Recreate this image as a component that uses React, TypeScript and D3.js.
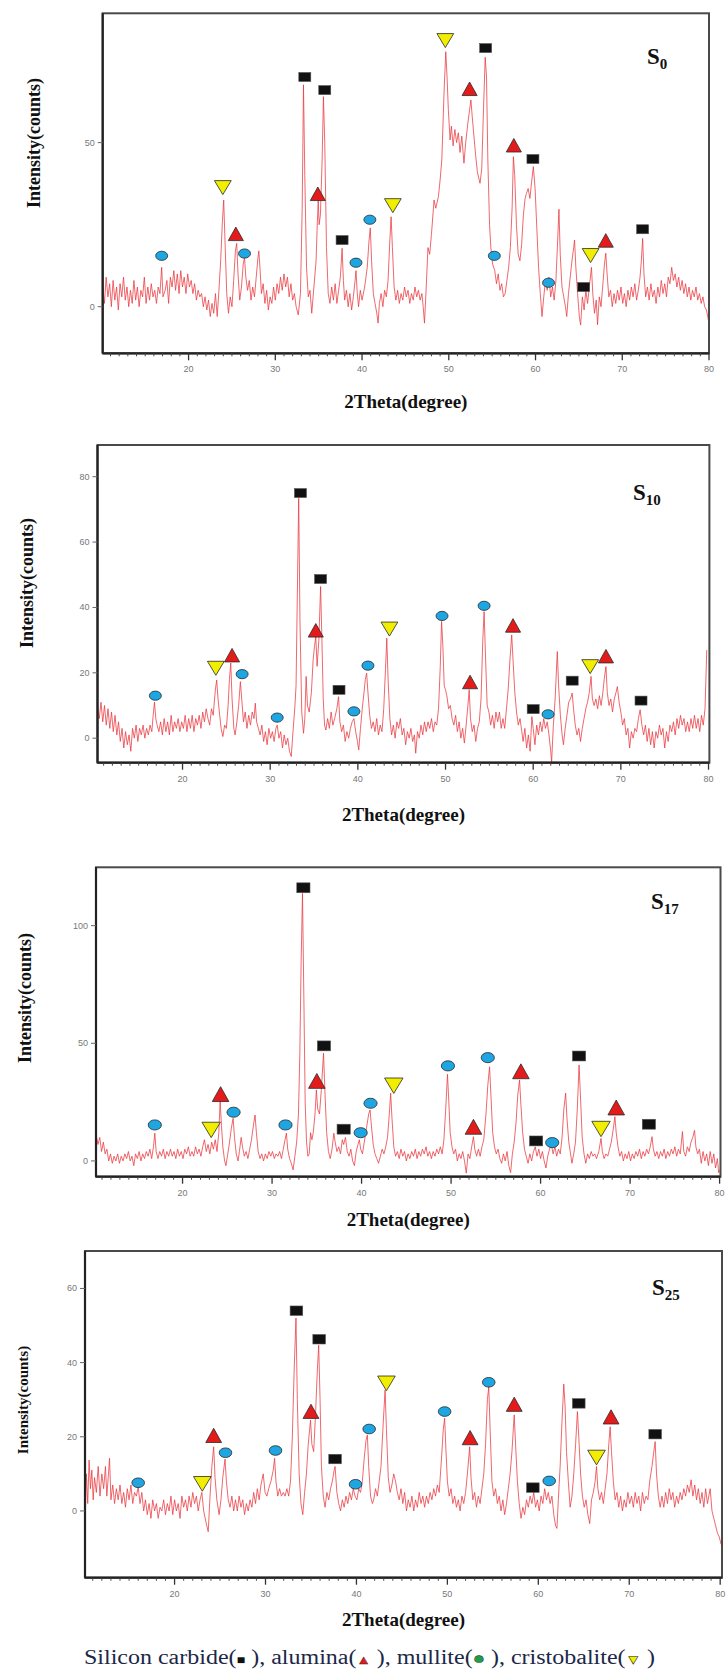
import React from 'react';
import * as d3 from 'd3';

type Pt = [number, number];

// ---- S0 ----
const s0Trace: Pt[] = [
  [10.1, 6], [10.3, 1], [10.5, 9], [10.7, 3], [10.9, 7], [11.1, 0], [11.3, 8], [11.5, 2], [11.7, 6], [11.9, -1],
  [12.1, 7], [12.3, 3], [12.5, 9], [12.7, 2], [12.9, 6], [13.1, 0], [13.3, 5], [13.5, 1], [13.7, 8], [13.9, 2],
  [14.1, 6], [14.3, 0], [14.5, 5], [14.7, 3], [14.9, 9], [15.1, 1], [15.3, 6], [15.5, 2], [15.7, 7], [15.9, 3],
  [16.1, 5], [16.3, 1], [16.5, 6], [16.7, 4], [16.9, 12], [17.05, 3], [17.3, 5], [17.5, 8], [17.7, 1], [17.9, 9],
  [18.1, 6], [18.3, 11], [18.5, 5], [18.7, 10], [18.9, 4], [19.1, 11], [19.3, 6], [19.5, 9], [19.7, 4], [19.9, 10],
  [20.1, 6], [20.3, 8], [20.5, 4], [20.7, 7], [20.9, 2], [21.1, 5], [21.3, 3], [21.5, 4], [21.7, 0], [21.9, 3],
  [22.1, -1], [22.3, 2], [22.5, -3], [22.7, 1], [22.9, -2], [23.1, 4], [23.3, -3], [23.5, 5], [23.7, 14], [23.9, 26],
  [24.05, 32.5], [24.2, 20], [24.4, 4], [24.6, -2], [24.8, 3], [25.0, 0], [25.2, 8], [25.4, 17], [25.55, 19.3], [25.7, 10],
  [25.9, 2], [26.1, 6], [26.3, 13], [26.45, 15], [26.6, 9], [26.8, 5], [27.0, 8], [27.2, 2], [27.4, 6], [27.6, 3],
  [27.8, 9], [28.0, 15], [28.1, 17], [28.25, 11], [28.4, 4], [28.6, 7], [28.8, 1], [29.0, 5], [29.2, -1], [29.4, 3],
  [29.6, 1], [29.8, 6], [30.0, 2], [30.2, 7], [30.4, 4], [30.6, 9], [30.8, 5], [31.0, 10], [31.2, 6], [31.4, 9],
  [31.6, 3], [31.8, 7], [32.0, 2], [32.2, 4], [32.4, 0], [32.65, -2.5], [32.9, 4], [33.1, 30], [33.25, 67.6], [33.4, 40],
  [33.6, 12], [33.8, 3], [34.0, 5], [34.2, -2], [34.45, 6], [34.7, 14], [34.85, 26], [34.95, 32.5], [35.05, 25], [35.2, 28],
  [35.4, 45], [35.55, 64], [35.7, 50], [35.9, 18], [36.1, 4], [36.3, 1], [36.5, 6], [36.7, 2], [36.9, 7], [37.1, 1],
  [37.3, 5], [37.5, 9], [37.7, 17.8], [37.85, 8], [38.0, 2], [38.2, 5], [38.4, 0], [38.6, 4], [38.8, -1], [39.0, 3],
  [39.2, 8], [39.3, 11], [39.45, 4], [39.6, 0], [39.8, 5], [40.0, 2], [40.3, 6], [40.6, 12], [40.8, 20], [40.95, 24],
  [41.1, 14], [41.3, 4], [41.5, 1], [41.7, -2], [41.85, -5], [42.0, 1], [42.2, 4], [42.4, 0], [42.6, 5], [42.8, 3],
  [43.0, 8], [43.2, 20], [43.35, 27.4], [43.5, 18], [43.7, 6], [43.9, 2], [44.1, 5], [44.3, 1], [44.5, 4], [44.7, 2],
  [44.9, 6], [45.1, 3], [45.3, 5], [45.5, 1], [45.7, 4], [45.9, 2], [46.1, 6], [46.3, 3], [46.5, 5], [46.7, 2],
  [46.9, 4], [47.05, 0], [47.2, -5], [47.4, 6], [47.6, 18], [47.8, 16], [48.0, 22], [48.3, 32.5], [48.5, 30], [48.8, 33.5],
  [49.0, 38.6], [49.2, 45], [49.45, 65], [49.65, 77.7], [49.8, 70], [49.95, 60], [50.15, 50.8], [50.3, 55], [50.5, 49], [50.7, 54],
  [50.9, 50], [51.1, 53], [51.3, 47], [51.5, 52], [51.75, 43.7], [51.95, 50], [52.2, 56], [52.4, 60], [52.55, 63], [52.7, 58],
  [52.9, 52], [53.1, 46], [53.3, 41], [53.6, 37.6], [53.8, 42], [54.0, 60], [54.2, 76], [54.35, 70], [54.5, 45], [54.7, 25],
  [54.85, 18], [55.05, 13], [55.3, 11], [55.5, 7], [55.7, 10], [55.9, 5], [56.1, 7], [56.3, 3], [56.5, 4], [56.7, 8],
  [56.9, 12], [57.1, 18], [57.3, 30], [57.45, 45.7], [57.6, 40], [57.8, 25], [58.0, 16], [58.2, 14], [58.4, 19], [58.6, 28],
  [58.8, 33], [58.95, 34.5], [59.15, 36], [59.35, 33], [59.55, 38], [59.75, 42.7], [59.95, 36], [60.15, 24], [60.35, 12], [60.55, 4],
  [60.75, -3], [60.95, 3], [61.15, 8], [61.35, 5], [61.55, 9], [61.75, 3], [61.95, 6], [62.15, 2], [62.35, 8], [62.55, 20],
  [62.7, 29.7], [62.85, 16], [63.05, 6], [63.25, 3], [63.45, 0], [63.6, -3], [63.8, 4], [64.0, 9], [64.2, 14], [64.4, 18],
  [64.5, 20.3], [64.65, 12], [64.85, 4], [65.05, -3], [65.2, -5.6], [65.4, 3], [65.6, -1], [65.8, 5], [66.0, 1], [66.2, 6],
  [66.45, 12], [66.6, 4], [66.8, -2], [67.0, 2], [67.15, -5.5], [67.35, 3], [67.55, 0], [67.8, 8], [67.95, 13], [68.1, 16.3],
  [68.25, 10], [68.45, 3], [68.65, 5], [68.85, 0], [69.05, 4], [69.25, 1], [69.45, 5], [69.65, 2], [69.85, 6], [70.05, 1],
  [70.25, 4], [70.45, 0], [70.65, 5], [70.85, 2], [71.05, 6], [71.25, 3], [71.45, 7], [71.65, 2], [71.85, 5], [72.05, 9],
  [72.2, 14], [72.35, 20.8], [72.5, 10], [72.7, 3], [72.9, 6], [73.1, 2], [73.3, 7], [73.5, 3], [73.7, 5], [73.9, 1],
  [74.1, 6], [74.3, 3], [74.5, 8], [74.7, 4], [74.9, 7], [75.1, 3], [75.3, 9], [75.5, 7], [75.7, 12], [75.9, 8],
  [76.1, 10], [76.3, 6], [76.5, 9], [76.7, 5], [76.9, 8], [77.1, 4], [77.3, 7], [77.5, 3], [77.7, 6], [77.9, 2],
  [78.1, 5], [78.3, 3], [78.5, 6], [78.7, 2], [78.9, 4], [79.1, 1], [79.3, 3], [79.5, 0], [79.7, -1], [79.85, -3], [80.0, -5],
];
const s0SiC: Pt[] = [[33.4, 70], [35.7, 66], [37.7, 20.3], [54.25, 78.8], [59.7, 45], [65.55, 6], [72.35, 23.6]];
const s0Alumina: Pt[] = [[25.45, 21.8], [34.9, 34], [52.4, 66], [57.5, 48.8], [68.1, 19.8]];
const s0Mullite: Pt[] = [[16.9, 15.5], [26.45, 16.2], [39.3, 13.4], [40.9, 26.5], [55.25, 15.5], [61.5, 7.3]];
const s0Cristobalite: Pt[] = [[23.95, 36.5], [43.55, 31], [49.6, 81.3], [66.35, 15.8]];

// ---- S10 ----
const s10Trace: Pt[] = [
  [10.3, 9.7], [10.5, 6], [10.7, 11], [10.9, 5], [11.1, 10], [11.3, 4], [11.5, 9], [11.7, 3], [11.9, 8], [12.1, 2],
  [12.3, 7], [12.5, 1], [12.7, 5], [12.9, -1], [13.1, 3], [13.3, -3], [13.5, 2], [13.7, -2], [13.9, 1], [14.1, -4],
  [14.3, 3], [14.5, 0], [14.7, 4], [14.9, -1], [15.1, 3], [15.3, 1], [15.5, 4], [15.7, 0], [15.9, 3], [16.1, 1],
  [16.3, 4], [16.5, 2], [16.65, 7], [16.8, 11], [16.95, 6], [17.1, 4], [17.3, 2], [17.5, 5], [17.7, 1], [17.9, 6],
  [18.1, 2], [18.3, 5], [18.5, 1], [18.7, 7], [18.9, 2], [19.1, 5], [19.3, 3], [19.5, 6], [19.7, 2], [19.9, 5],
  [20.1, 3], [20.3, 7], [20.5, 2], [20.7, 6], [20.9, 3], [21.1, 7], [21.3, 2], [21.5, 6], [21.7, 4], [21.9, 7],
  [22.1, 3], [22.3, 8], [22.5, 5], [22.7, 9], [22.9, 6], [23.1, 4], [23.3, 9], [23.5, 7], [23.75, 15], [23.9, 17.8],
  [24.05, 12], [24.2, 8], [24.4, 3], [24.6, 0.5], [24.8, 4], [25.0, 3], [25.2, 10], [25.35, 18], [25.5, 23], [25.65, 12],
  [25.85, 3], [26.0, 1], [26.2, 5], [26.4, 10], [26.6, 17.3], [26.75, 12], [26.95, 5], [27.15, 8], [27.35, 3], [27.55, 7],
  [27.75, 4], [27.95, 8], [28.15, 6], [28.3, 10.7], [28.45, 5], [28.65, 3], [28.85, 1], [29.05, 4], [29.25, -1], [29.45, 2],
  [29.65, -2], [29.85, 3], [30.05, 0], [30.25, 2], [30.45, -1], [30.65, 3], [30.8, 4], [31.0, 0], [31.2, 2], [31.4, -3],
  [31.6, 1], [31.8, -2], [32.0, 0], [32.2, -4], [32.4, -5.6], [32.6, 2], [32.8, 9], [32.95, 16], [33.1, 45], [33.25, 73.4],
  [33.4, 35], [33.6, 8], [33.8, 1.5], [33.95, 6], [34.1, 18.9], [34.25, 10], [34.45, 8], [34.7, 14], [34.9, 24], [35.05, 28],
  [35.2, 31], [35.35, 22], [35.55, 30], [35.75, 46.4], [35.9, 30], [36.05, 12], [36.2, 4], [36.35, 2.5], [36.55, 6], [36.75, 3],
  [36.95, 8], [37.15, 4], [37.35, 6], [37.6, 9], [37.8, 12.7], [37.95, 5], [38.15, 2], [38.35, 4], [38.55, -1], [38.75, 2],
  [38.95, 0], [39.15, 3], [39.35, 5], [39.55, 6], [39.75, 2], [39.95, -1], [40.1, -3.6], [40.3, 3], [40.5, 9], [40.7, 14],
  [40.85, 18], [41.0, 19.9], [41.15, 14], [41.35, 7], [41.55, 3], [41.75, 5], [41.95, 2], [42.15, 6], [42.35, 1], [42.55, 4],
  [42.75, 2], [42.95, 9], [43.15, 21], [43.3, 30.6], [43.45, 18], [43.65, 6], [43.85, 1], [44.05, 4], [44.25, 0], [44.45, 5],
  [44.65, 3], [44.85, 6], [45.05, 1], [45.25, 3], [45.45, -2], [45.65, 2], [45.85, 0], [46.05, 3], [46.25, -1], [46.45, 1],
  [46.6, -4.6], [46.8, 2], [47.0, 0], [47.2, 4], [47.4, 1], [47.6, 5], [47.8, 2], [48.0, 5], [48.2, 3], [48.4, 6],
  [48.6, 2], [48.8, 5], [49.0, 4], [49.2, 9], [49.4, 22], [49.55, 35.7], [49.7, 28], [49.85, 16], [50.0, 14.8], [50.15, 13],
  [50.35, 9], [50.55, 10], [50.75, 6], [50.95, 4], [51.15, 7], [51.35, 2], [51.55, 5], [51.75, 0], [51.95, 3], [52.15, -1.5],
  [52.35, 4], [52.55, 10], [52.7, 14.8], [52.85, 6], [53.05, 2], [53.25, 4], [53.45, -1], [53.65, 3], [53.85, 5], [54.05, 12],
  [54.25, 30], [54.4, 38.7], [54.55, 26], [54.75, 10], [54.95, 8], [55.15, 4], [55.35, 7], [55.55, 3], [55.75, 8], [55.95, 5],
  [56.15, 8], [56.35, 3], [56.55, 6], [56.75, 3], [56.95, 9], [57.15, 15], [57.35, 24], [57.55, 31.6], [57.7, 24], [57.9, 14],
  [58.1, 8], [58.3, 4], [58.5, 6], [58.7, 2], [58.85, -1], [59.05, 3], [59.25, -3], [59.45, 1], [59.65, -4], [59.85, 6.6],
  [60.0, 3], [60.2, -2], [60.4, 4], [60.6, 1], [60.8, 5], [61.0, 2], [61.2, 6], [61.4, 3], [61.6, 5], [61.8, 1],
  [62.0, -4], [62.1, -7.4], [62.3, 4], [62.5, 12], [62.75, 26.5], [62.9, 16], [63.1, 7], [63.3, 1], [63.45, -2], [63.65, 3],
  [63.85, 7], [64.05, 11], [64.25, 12], [64.45, 13.8], [64.6, 9], [64.8, 4], [65.0, 1], [65.2, 3], [65.4, -1], [65.6, 3],
  [65.8, 6], [66.0, 9], [66.2, 11], [66.4, 14], [66.6, 18.9], [66.75, 12], [66.95, 10], [67.15, 12], [67.35, 9], [67.55, 13],
  [67.75, 10], [67.95, 14], [68.1, 18], [68.3, 21.9], [68.45, 14], [68.65, 10], [68.85, 12], [69.05, 8], [69.25, 12], [69.45, 14],
  [69.6, 15.8], [69.8, 11], [70.0, 8], [70.2, 4], [70.4, 6], [70.6, 1], [70.8, 3], [71.0, -3], [71.2, 2], [71.4, 0],
  [71.6, 3], [71.8, 2], [72.0, 6], [72.2, 8.7], [72.4, 4], [72.6, 1], [72.8, 4], [73.0, -1], [73.2, 3], [73.4, -2],
  [73.6, 2], [73.8, -3], [74.0, 2], [74.2, 0], [74.4, 4], [74.6, 1], [74.8, 3], [75.0, -3], [75.2, 2], [75.4, -1],
  [75.6, 4], [75.8, 2], [76.0, 5], [76.2, 1], [76.4, 6], [76.6, 3], [76.8, 7], [77.0, 4], [77.2, 6], [77.4, 2],
  [77.6, 5], [77.8, 2], [78.0, 6], [78.2, 3], [78.4, 7], [78.6, 3], [78.8, 6], [79.0, 2], [79.2, 7], [79.4, 4],
  [79.6, 9], [79.8, 27],
];
const s10SiC: Pt[] = [[33.45, 75], [35.75, 48.7], [37.85, 14.8], [60.0, 8.9], [64.45, 17.6], [72.3, 11.5]];
const s10Alumina: Pt[] = [[25.65, 25], [35.2, 32.6], [52.8, 16.8], [57.7, 34.1], [68.3, 24.7]];
const s10Mullite: Pt[] = [[16.9, 13], [26.8, 19.6], [30.8, 6.3], [39.55, 8.2], [41.15, 22.2], [49.6, 37.4], [54.4, 40.5], [61.7, 7.3]];
const s10Cristobalite: Pt[] = [[23.8, 21.6], [43.6, 33.6], [66.5, 22.1]];

// ---- S17 ----
const s17Trace: Pt[] = [
  [10.35, 11], [10.55, 7], [10.75, 10], [10.95, 4], [11.15, 8], [11.35, 3], [11.55, 5], [11.75, 0], [11.95, 3], [12.15, -1],
  [12.35, 2], [12.55, 0], [12.75, 3], [12.95, -1], [13.15, 2], [13.35, 0], [13.55, 3], [13.75, 1], [13.95, 4], [14.15, 0],
  [14.35, 2], [14.55, -2], [14.75, 3], [14.95, 1], [15.15, 4], [15.35, 0], [15.55, 3], [15.75, 1], [15.95, 4], [16.15, 2],
  [16.35, 5], [16.55, 1], [16.75, 6], [16.9, 11.8], [17.05, 4], [17.25, 1], [17.45, 4], [17.65, 2], [17.85, 5], [18.05, 1],
  [18.25, 4], [18.45, 2], [18.65, 5], [18.85, 2], [19.05, 4], [19.25, 1], [19.45, 5], [19.65, 2], [19.85, 4], [20.05, 1],
  [20.25, 5], [20.45, 3], [20.65, 6], [20.85, 2], [21.05, 4], [21.25, 2], [21.45, 6], [21.65, 3], [21.85, 5], [22.05, 2],
  [22.25, 6], [22.45, 9], [22.65, 4], [22.85, 7], [23.05, 3], [23.25, 8], [23.45, 5], [23.65, 9], [23.85, 4], [24.05, 12],
  [24.2, 25.2], [24.35, 15], [24.5, 6], [24.7, 0], [24.85, -2], [25.05, 3], [25.25, 8], [25.45, 14], [25.65, 18.1], [25.8, 10],
  [26.0, 3], [26.2, 0], [26.35, 4], [26.55, 10], [26.7, 6], [26.9, 2], [27.1, 4], [27.3, 1], [27.5, 5], [27.7, 9],
  [27.95, 16], [28.1, 19.5], [28.25, 12], [28.45, 4], [28.65, 1], [28.85, 3], [29.05, 0], [29.25, 3], [29.45, 1], [29.65, 4],
  [29.85, 2], [30.05, 4], [30.25, 1], [30.45, 3], [30.65, 2], [30.85, 4], [31.05, 1], [31.25, 5], [31.45, 9], [31.6, 11.8],
  [31.75, 5], [31.95, 1], [32.15, -1], [32.35, -3.8], [32.55, 2], [32.75, 8], [32.95, 20], [33.1, 45], [33.25, 85], [33.4, 113.7],
  [33.55, 70], [33.7, 25], [33.85, 8], [34.0, 2], [34.15, 3], [34.3, 12], [34.45, 9], [34.6, 12], [34.8, 20], [34.95, 30.2],
  [35.1, 22], [35.3, 20], [35.5, 30], [35.75, 45.8], [35.9, 30], [36.1, 12], [36.3, 4], [36.5, 1], [36.7, 5], [36.9, 11.8],
  [37.05, 8], [37.25, 4], [37.45, 6], [37.65, 3], [37.85, 9], [38.0, 7], [38.2, 10], [38.4, 4], [38.6, 2], [38.8, 5],
  [39.0, 0], [39.2, -2], [39.4, 4], [39.6, 7], [39.75, 9], [39.9, 5], [40.1, 3], [40.3, 8], [40.55, 14], [40.8, 20],
  [40.95, 21.7], [41.1, 15], [41.3, 7], [41.5, 3], [41.7, 1], [41.9, -1], [42.1, 2], [42.3, 5], [42.5, 3], [42.7, 6],
  [42.9, 10], [43.1, 20], [43.25, 28.8], [43.4, 18], [43.6, 6], [43.8, 2], [44.0, 4], [44.2, 1], [44.4, 5], [44.6, 2],
  [44.8, 4], [45.0, 0], [45.2, 3], [45.4, 1], [45.6, 4], [45.8, 2], [46.0, 5], [46.2, 1], [46.4, 4], [46.6, 2],
  [46.8, 5], [47.0, 3], [47.2, 6], [47.4, 2], [47.6, 4], [47.8, 1], [48.0, 4], [48.2, 2], [48.4, 5], [48.6, 3],
  [48.8, 6], [49.0, 3], [49.2, 9], [49.4, 22], [49.6, 36.8], [49.75, 25], [49.9, 12], [50.1, 6], [50.3, 3], [50.5, 5],
  [50.7, 0], [50.9, 3], [51.1, 1], [51.3, 4], [51.5, 0], [51.7, -5.2], [51.9, 3], [52.1, 1], [52.3, 6], [52.5, 10.3],
  [52.65, 5], [52.85, 2], [53.05, 5], [53.25, 2], [53.45, 6], [53.65, 9], [53.9, 20], [54.1, 32], [54.3, 40], [54.45, 28],
  [54.65, 12], [54.85, 6], [55.05, 3], [55.25, 5], [55.45, 1], [55.65, -1], [55.85, 3], [56.05, 0], [56.25, 4], [56.45, -2],
  [56.65, -5], [56.85, 3], [57.05, 8], [57.25, 16], [57.45, 28], [57.65, 34.4], [57.8, 24], [58.0, 12], [58.2, 5], [58.4, 2],
  [58.6, -1], [58.8, 3], [59.0, 0], [59.2, 4], [59.4, 6], [59.6, 2], [59.8, 5], [60.0, 1], [60.2, 4], [60.4, 0],
  [60.6, -3], [60.8, 2], [61.0, 5], [61.2, 7], [61.4, 3], [61.6, 6], [61.8, 2], [62.0, 5], [62.2, 3], [62.4, 10],
  [62.6, 22], [62.8, 28.8], [62.95, 18], [63.15, 8], [63.35, 3], [63.5, -1], [63.7, 3], [63.9, 8], [64.1, 22], [64.3, 40.8],
  [64.45, 28], [64.65, 10], [64.85, 3], [65.05, -1], [65.25, 3], [65.45, 1], [65.65, 4], [65.85, 2], [66.05, 3], [66.25, 1],
  [66.5, 4], [66.75, 9.6], [66.9, 4], [67.1, 1], [67.3, 3], [67.5, 2], [67.7, 5], [67.9, 8], [68.1, 13], [68.3, 18.8],
  [68.45, 12], [68.65, 6], [68.85, 2], [69.05, 4], [69.25, 0], [69.45, 3], [69.65, 1], [69.85, 4], [70.05, 0], [70.25, 3],
  [70.45, 1], [70.65, 4], [70.85, 2], [71.05, 5], [71.25, 1], [71.45, 4], [71.65, 2], [71.85, 5], [72.05, 3], [72.25, 6],
  [72.45, 10.3], [72.6, 5], [72.8, 2], [73.0, 4], [73.2, 1], [73.4, 4], [73.6, 2], [73.8, 5], [74.0, 1], [74.2, 4],
  [74.4, 2], [74.6, 5], [74.8, 3], [75.0, 6], [75.2, 2], [75.4, 5], [75.6, 3], [75.85, 12.5], [76.0, 4], [76.2, 2],
  [76.4, 6], [76.6, 4], [76.8, 8], [77.0, 10], [77.2, 13], [77.35, 6], [77.55, 3], [77.75, 5], [77.95, -1], [78.15, 4],
  [78.35, 0], [78.55, 3], [78.75, -2], [78.95, 4], [79.15, -1], [79.35, 3], [79.55, -3], [79.75, 1], [79.9, -5], [80.0, -4],
];
const s17SiC: Pt[] = [[33.5, 116.1], [35.8, 48.9], [38.0, 13.5], [59.5, 8.5], [64.3, 44.6], [72.1, 15.6]];
const s17Alumina: Pt[] = [[24.25, 27.8], [35.0, 33.4], [52.5, 13.9], [57.8, 37.5], [68.45, 22.1]];
const s17Mullite: Pt[] = [[16.9, 15.3], [25.7, 20.7], [31.5, 15.3], [39.9, 12], [41.0, 24.5], [49.65, 40.4], [54.1, 43.9], [61.3, 7.8]];
const s17Cristobalite: Pt[] = [[23.2, 13.5], [43.6, 32.3], [66.75, 13.9]];

// ---- S25 ----
const s25Trace: Pt[] = [
  [10.15, -4], [10.3, 10], [10.45, 2], [10.6, 13.7], [10.75, 6], [10.9, 11], [11.05, 3], [11.2, 9], [11.4, 5], [11.6, 12],
  [11.8, 4], [12.0, 10], [12.2, 6], [12.4, 12], [12.55, 4], [12.7, 9], [12.85, 14.2], [13.0, 3], [13.2, 7], [13.4, 2],
  [13.6, 6], [13.8, 3], [14.0, 7], [14.2, 2], [14.4, 5], [14.6, 1], [14.8, 6], [15.0, 3], [15.2, 7], [15.4, 2],
  [15.6, 5], [15.8, 4], [16.0, 6.5], [16.2, 2], [16.4, 5], [16.6, 0], [16.8, 3], [17.0, -1], [17.2, 2], [17.4, -2],
  [17.6, 3], [17.8, 0], [18.0, 2], [18.2, -2], [18.4, 1], [18.6, 0], [18.8, 3], [19.0, -1], [19.2, 2], [19.4, 0],
  [19.6, 4], [19.8, -1], [20.0, 3], [20.2, 0], [20.4, 2], [20.6, -2], [20.8, 4], [21.0, 1], [21.2, 3], [21.4, 0],
  [21.6, 4], [21.8, 1], [22.0, 5], [22.2, 2], [22.4, 4], [22.6, 0], [22.8, 3], [23.0, 5], [23.2, 0], [23.45, -3],
  [23.7, -5.6], [23.9, 4], [24.1, 12], [24.3, 17.3], [24.45, 9], [24.65, 3], [24.9, -1], [25.1, 3], [25.3, 9], [25.55, 14],
  [25.7, 8], [25.9, 3], [26.1, 1], [26.3, 4], [26.5, 0], [26.7, 3], [26.9, 0], [27.1, 4], [27.3, 1], [27.5, 3],
  [27.7, -1], [27.9, 2], [28.1, 0], [28.3, 3], [28.5, 1], [28.7, 5], [28.9, 2], [29.1, 6], [29.3, 3], [29.5, 7],
  [29.75, 10], [29.95, 5], [30.15, 4], [30.35, 6], [30.6, 8], [30.85, 11], [31.0, 14.2], [31.15, 8], [31.35, 4], [31.55, 6],
  [31.75, 4], [31.95, 5], [32.15, 4], [32.35, 6], [32.55, 4], [32.75, 8], [32.95, 20], [33.15, 38], [33.35, 52], [33.5, 30],
  [33.7, 10], [33.9, 2], [34.1, -1], [34.3, 5], [34.5, 10], [34.7, 18], [34.95, 24.5], [35.1, 18], [35.3, 16], [35.5, 26],
  [35.7, 38], [35.85, 44.7], [36.0, 30], [36.15, 12], [36.35, 4], [36.55, 1], [36.75, 5], [36.95, 3], [37.15, 6], [37.35, 8],
  [37.55, 11], [37.65, 12], [37.85, 5], [38.05, 2], [38.25, 0], [38.45, 3], [38.65, 1], [38.85, 4], [39.05, 2], [39.25, 5],
  [39.45, 3], [39.65, 6], [39.85, 4], [40.05, 3], [40.25, 6], [40.45, 5], [40.65, 8], [40.85, 14], [41.05, 19], [41.2, 20.5],
  [41.35, 12], [41.55, 4], [41.75, 2], [41.9, 3], [42.1, 6], [42.3, 4], [42.5, 8], [42.7, 12], [42.95, 24], [43.15, 32.6],
  [43.3, 22], [43.5, 9], [43.7, 5], [43.9, 7], [44.1, 10], [44.3, 8], [44.5, 5], [44.7, 3], [44.9, 6], [45.1, 2],
  [45.3, 5], [45.5, 0], [45.7, 3], [45.9, 1], [46.1, 4], [46.3, 0], [46.5, 3], [46.7, 1], [46.9, 5], [47.1, 2],
  [47.3, 4], [47.5, 1], [47.7, 4], [47.9, 2], [48.1, 5], [48.3, 3], [48.5, 6], [48.7, 4], [48.9, 7], [49.1, 5],
  [49.35, 14], [49.55, 22], [49.7, 25], [49.85, 16], [50.0, 8], [50.2, 4], [50.4, 6], [50.6, 2], [50.8, 4], [51.0, 1],
  [51.2, 3], [51.4, 0], [51.6, 4], [51.8, 2], [52.0, 5], [52.2, 10], [52.45, 17.3], [52.6, 9], [52.8, 3], [53.0, 5],
  [53.2, 1], [53.4, 4], [53.6, 2], [53.8, 6], [54.0, 10], [54.2, 18], [54.4, 30], [54.55, 33.5], [54.7, 22], [54.9, 8],
  [55.1, 4], [55.3, 6], [55.5, 2], [55.7, 4], [55.9, 0], [56.1, 3], [56.3, -1], [56.5, 2], [56.7, 6], [56.9, 10],
  [57.1, 16], [57.35, 25.9], [57.5, 18], [57.7, 8], [57.9, 2], [58.1, -2], [58.3, 1], [58.5, -1], [58.7, 3], [58.9, 1],
  [59.1, 4], [59.3, 2], [59.5, 5], [59.7, 1], [59.9, 3], [60.1, 0], [60.3, 4], [60.5, 2], [60.7, 6], [60.9, 3],
  [61.1, 5], [61.3, 2], [61.5, 4], [61.7, -1], [61.9, -4], [62.05, -4.7], [62.2, 3], [62.4, 12], [62.6, 24], [62.8, 34.2],
  [62.95, 28], [63.1, 16], [63.3, 8], [63.5, 1], [63.7, 4], [63.9, 10], [64.1, 18], [64.3, 26.8], [64.45, 20], [64.65, 10],
  [64.85, 4], [65.05, 1], [65.25, 3], [65.45, -1], [65.65, -3.4], [65.85, 3], [66.05, 5], [66.25, 8], [66.4, 12], [66.55, 6],
  [66.75, 3], [66.95, 5], [67.15, 2], [67.35, 6], [67.55, 10], [67.75, 18], [67.9, 22.7], [68.05, 16], [68.25, 8], [68.45, 3],
  [68.65, 5], [68.85, 1], [69.05, 4], [69.25, 0], [69.45, 3], [69.65, 1], [69.85, 5], [70.05, 2], [70.25, 4], [70.45, 1],
  [70.65, 5], [70.85, 2], [71.05, 4], [71.25, 0], [71.45, 5], [71.65, 2], [71.85, 4], [72.05, 3], [72.25, 8], [72.5, 12],
  [72.7, 16], [72.85, 18.7], [73.0, 10], [73.2, 4], [73.4, 1], [73.6, 4], [73.8, 1], [74.0, 5], [74.2, 2], [74.4, 6],
  [74.6, 3], [74.8, 5], [75.0, 1], [75.2, 4], [75.4, 2], [75.6, 5], [75.8, 3], [76.0, 6], [76.2, 4], [76.4, 7],
  [76.6, 5], [76.8, 8.4], [77.0, 4], [77.2, 7], [77.4, 3], [77.6, 6], [77.8, 2], [78.0, 5], [78.2, 1], [78.4, 6],
  [78.6, 2], [78.9, 6], [79.1, 0], [79.3, -2], [79.5, -4], [79.7, -6], [79.9, -7], [80.1, -9],
];
const s25SiC: Pt[] = [[33.4, 54], [35.9, 46.3], [37.65, 14], [59.4, 6.3], [64.45, 29], [72.85, 20.7]];
const s25Alumina: Pt[] = [[24.3, 20], [35.0, 26.5], [52.5, 19.4], [57.35, 28.4], [68.0, 25]];
const s25Mullite: Pt[] = [[16.0, 7.6], [25.6, 15.7], [31.1, 16.3], [39.9, 7.2], [41.4, 22.1], [49.7, 26.8], [54.55, 34.7], [61.2, 8.1]];
const s25Cristobalite: Pt[] = [[23.05, 7.5], [43.3, 34.6], [66.4, 14.6]];

// tick labels & names
const xTicks = [20, 30, 40, 50, 60, 70, 80];
const s0YTicks = [0, 50];
const s10YTicks = [0, 20, 40, 60, 80];
const s17YTicks = [0, 50, 100];
const s25YTicks = [0, 20, 40, 60];
const xTitle = '2Theta(degree)';
const yTitle = 'Intensity(counts)';

interface Panel {
  name: string;
  sub: string;
  trace: Pt[];
  sic: Pt[];
  alumina: Pt[];
  mullite: Pt[];
  cristobalite: Pt[];
  yTicks: number[];
  xDomain: [number, number];
  yDomain: [number, number];
  box: { left: number; right: number; top: number; bottom: number };
  labelPos: [number, number];
  yTitlePos: [number, number];
  yTitleSize: number;
  xTitleY: number;
  mk: number;
}

const panels: Panel[] = [
  {
    name: 'S', sub: '0', trace: s0Trace, sic: s0SiC, alumina: s0Alumina, mullite: s0Mullite, cristobalite: s0Cristobalite,
    yTicks: s0YTicks, xDomain: [10.1, 80], yDomain: [-14.2, 89.4],
    box: { left: 102.7, right: 709, top: 13.3, bottom: 353.3 },
    labelPos: [647, 64], yTitlePos: [40, 143], yTitleSize: 18, xTitleY: 408, mk: 1,
  },
  {
    name: 'S', sub: '10', trace: s10Trace, sic: s10SiC, alumina: s10Alumina, mullite: s10Mullite, cristobalite: s10Cristobalite,
    yTicks: s10YTicks, xDomain: [10.3, 80.1], yDomain: [-7.5, 89.7],
    box: { left: 97.5, right: 709.4, top: 445, bottom: 762.7 },
    labelPos: [633, 500], yTitlePos: [33, 583], yTitleSize: 18, xTitleY: 821, mk: 1,
  },
  {
    name: 'S', sub: '17', trace: s17Trace, sic: s17SiC, alumina: s17Alumina, mullite: s17Mullite, cristobalite: s17Cristobalite,
    yTicks: s17YTicks, xDomain: [10.33, 80.1], yDomain: [-6.7, 124.8],
    box: { left: 96, right: 720.5, top: 867.3, bottom: 1176.7 },
    labelPos: [651, 909], yTitlePos: [31, 998], yTitleSize: 18, xTitleY: 1226, mk: 1.1,
  },
  {
    name: 'S', sub: '25', trace: s25Trace, sic: s25SiC, alumina: s25Alumina, mullite: s25Mullite, cristobalite: s25Cristobalite,
    yTicks: s25YTicks, xDomain: [10.15, 80.2], yDomain: [-18, 70.1],
    box: { left: 85, right: 722, top: 1251, bottom: 1577.7 },
    labelPos: [652, 1295], yTitlePos: [28, 1400], yTitleSize: 15, xTitleY: 1626, mk: 1.05,
  },
];

const serif = 'Liberation Serif, Times New Roman, serif';
const sans = 'Liberation Sans, Arial, sans-serif';
const outline = '#2a2a2a';

const triUp = (s: number) => `M0,${-s * 0.62}L${s * 0.58},${s * 0.42}L${-s * 0.58},${s * 0.42}Z`;
const triDown = (s: number) => `M${-s * 0.6},${-s * 0.45}L${s * 0.6},${-s * 0.45}L0,${s * 0.55}Z`;

const XrdPanel: React.FC<{ p: Panel }> = ({ p }) => {
  const { box } = p;
  const x = d3.scaleLinear().domain(p.xDomain).range([box.left, box.right]);
  const y = d3.scaleLinear().domain(p.yDomain).range([box.bottom, box.top]);
  const line = d3.line<Pt>().x(d => x(d[0])).y(d => y(d[1]));
  const minor = d3.range(Math.ceil(p.xDomain[0]), 80, 1).filter(v => v % 10 !== 0);
  const cx = (box.left + box.right) / 2;
  const clipId = `clip-${p.sub}`;
  const k = p.mk;

  return (
    <g>
      <defs>
        <clipPath id={clipId}>
          <rect x={box.left} y={box.top} width={box.right - box.left} height={box.bottom - box.top} />
        </clipPath>
      </defs>
      <path d={line(p.trace) || ''} fill="none" stroke="#e9393f" strokeWidth={0.85} strokeOpacity={0.9}
        strokeLinejoin="round" clipPath={`url(#${clipId})`} />

      {/* frame */}
      <rect x={box.left} y={box.top} width={box.right - box.left} height={box.bottom - box.top}
        fill="none" stroke="#4a4a4a" strokeWidth={2} />
      <line x1={box.left} x2={box.right} y1={box.bottom} y2={box.bottom} stroke="#222" strokeWidth={2.2} />
      <line x1={box.left} x2={box.left} y1={box.top} y2={box.bottom} stroke="#222" strokeWidth={2.2} />

      {/* x ticks */}
      {minor.map(v => (
        <line key={`m${v}`} x1={x(v)} x2={x(v)} y1={box.bottom} y2={box.bottom + 3} stroke="#444" strokeWidth={1} />
      ))}
      {xTicks.map(v => (
        <g key={`x${v}`}>
          <line x1={x(v)} x2={x(v)} y1={box.bottom} y2={box.bottom + 7} stroke="#333" strokeWidth={1.3} />
          <text x={x(v)} y={box.bottom + 19} textAnchor="middle" fontFamily={sans} fontSize={9} fill="#777">{v}</text>
        </g>
      ))}
      {/* y ticks */}
      {p.yTicks.map(v => (
        <g key={`y${v}`}>
          <line x1={box.left - 5} x2={box.left} y1={y(v)} y2={y(v)} stroke="#666" strokeWidth={1} />
          <text x={box.left - 8} y={y(v) + 3} textAnchor="end" fontFamily={sans} fontSize={9} fill="#777">{v}</text>
        </g>
      ))}

      {/* phase markers */}
      {p.sic.map((d, i) => (
        <rect key={`s${i}`} x={x(d[0]) - 6 * k} y={y(d[1]) - 4.5 * k} width={12 * k} height={9 * k}
          fill="#111" stroke="#555" strokeWidth={0.6} />
      ))}
      {p.alumina.map((d, i) => (
        <path key={`a${i}`} d={triUp(13 * k)} transform={`translate(${x(d[0])},${y(d[1])})`}
          fill="#e41b1b" stroke={outline} strokeWidth={0.8} />
      ))}
      {p.mullite.map((d, i) => (
        <ellipse key={`u${i}`} cx={x(d[0])} cy={y(d[1])} rx={6 * k} ry={4.6 * k}
          fill="#1ea6e3" stroke={outline} strokeWidth={0.8} />
      ))}
      {p.cristobalite.map((d, i) => (
        <path key={`c${i}`} d={triDown(14 * k)} transform={`translate(${x(d[0])},${y(d[1])})`}
          fill="#f2ee00" stroke={outline} strokeWidth={0.8} />
      ))}

      {/* sample label */}
      <text x={p.labelPos[0]} y={p.labelPos[1]} fontFamily={serif} fontWeight="bold" fontSize={23} fill="#111">
        {p.name}
        <tspan fontSize={15} dy={5}>{p.sub}</tspan>
      </text>

      {/* axis titles */}
      <text x={cx} y={p.xTitleY} textAnchor="middle" fontFamily={serif} fontWeight="bold" fontSize={19} fill="#111">
        {xTitle}
      </text>
      <text transform={`translate(${p.yTitlePos[0]},${p.yTitlePos[1]}) rotate(-90)`} textAnchor="middle"
        fontFamily={serif} fontWeight="bold" fontSize={p.yTitleSize} fill="#111">
        {yTitle}
      </text>
    </g>
  );
};

export default function App() {
  return (
    <div>
      <style>{'body{margin:0;background:#fff}'}</style>
      <svg width={728} height={1674} viewBox="0 0 728 1674" style={{ display: 'block' }}>
        <rect width={728} height={1674} fill="#fff" />
        {panels.map(p => <XrdPanel key={p.sub} p={p} />)}
        <text x={84} y={1664} fontFamily={serif} fontSize={20} fill="#1c2748" textLength={571} lengthAdjust="spacingAndGlyphs">
          Silicon carbide(<tspan fill="#111" fontSize={12}>■</tspan> ), alumina(<tspan fill="#e41b1b" stroke="#222" strokeWidth={0.4} fontSize={12}>▲</tspan> ), mullite(<tspan fill="#1f9e4a" stroke="#222" strokeWidth={0.4} fontSize={17}>●</tspan> ), cristobalite(<tspan fill="#f2ee00" stroke="#222" strokeWidth={0.5} fontSize={13}>▼</tspan> )
        </text>
      </svg>
    </div>
  );
}
